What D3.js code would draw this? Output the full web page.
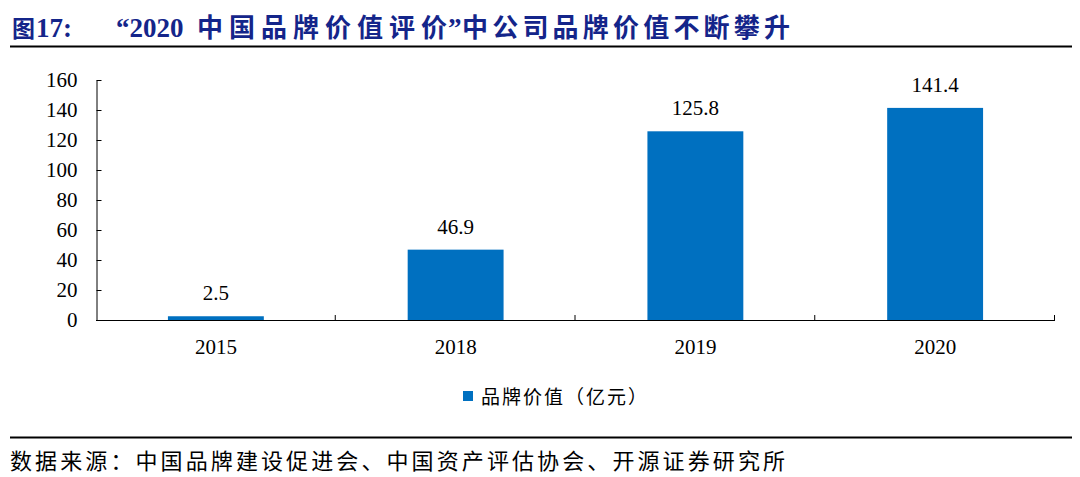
<html>
<head>
<meta charset="utf-8">
<script src="https://d3js.org/d3.v7.min.js"></script>
<style>
body { margin: 0; background: #fff; }
svg text { font-family: "Liberation Serif", "Times New Roman", serif; }
.cjk { font-family: "Noto Sans CJK SC", "Noto Sans", sans-serif; }
</style>
</head>
<body>
<div id="chart"></div>
<script>
var years = ['2015', '2018', '2019', '2020']
var brandValue = [2.5, 46.9, 125.8, 141.4]
var yTicks = [0, 20, 40, 60, 80, 100, 120, 140, 160]
var seriesName = '品牌价值（亿元）'
var sourceText = '数据来源：中国品牌建设促进会、中国资产评估协会、开源证券研究所'

var width = 1080, height = 477
var plotLeft = 96, plotRight = 1055, plotTop = 80, plotBottom = 320
var titleColor = '#14258a'

var svg = d3.select('#chart').append('svg')
    .attr('width', width)
    .attr('height', height)

// title, pieced together so each part lands where it does in the original
function titlePart(txt, x, cls, size, len) {
    var t = svg.append('text')
        .attr('x', x)
        .attr('y', 37)
        .attr('fill', titleColor)
        .style('font-size', size + 'px')
        .style('font-weight', 'bold')
        .text(txt)
    if (cls) t.attr('class', cls)
    if (len) t.attr('textLength', len).attr('lengthAdjust', 'spacing')
    return t
}
titlePart('图', 12, 'cjk', 23)
titlePart('17:', 36, null, 27)
titlePart('“2020', 116, null, 27)
titlePart('中国品牌价值评价', 197, 'cjk', 26, 250)
titlePart('”', 448, null, 27)
titlePart('中公司品牌价值不断攀升', 462, 'cjk', 26, 328)

svg.append('line')
    .attr('x1', 10).attr('x2', 1072)
    .attr('y1', 46.5).attr('y2', 46.5)
    .attr('stroke', '#000').attr('stroke-width', 2)

var x = d3.scaleBand().domain(years).range([plotLeft, plotRight]).paddingInner(0).paddingOuter(0)
var y = d3.scaleLinear().domain([0, 160]).range([plotBottom, plotTop])

// y axis, ticks pointing inward
var yAxis = svg.append('g')
    .attr('transform', 'translate(' + (plotLeft + 0.5) + ',0)')
    .call(d3.axisRight(y).tickValues(yTicks).tickSize(5).tickSizeOuter(0))
yAxis.select('.domain').attr('stroke', '#000')
yAxis.selectAll('.tick line').attr('stroke', '#000')
yAxis.selectAll('.tick text')
    .attr('x', -19)
    .attr('text-anchor', 'end')
    .attr('fill', '#000')
    .style('font-size', '21px')
    .style('font-family', '"Liberation Serif", serif')

// bars
svg.append('g').selectAll('rect')
    .data(brandValue)
    .enter()
    .append('rect')
    .attr('x', function(d, i) { return x(years[i]) + x.bandwidth() * 0.3 })
    .attr('width', x.bandwidth() * 0.4)
    .attr('y', function(d) { return y(d) })
    .attr('height', function(d) { return y(0) - y(d) })
    .attr('fill', '#0070c0')

// value labels
svg.append('g').selectAll('text')
    .data(brandValue)
    .enter()
    .append('text')
    .attr('x', function(d, i) { return x(years[i]) + x.bandwidth() / 2 })
    .attr('y', function(d) { return y(d) - 16 })
    .attr('text-anchor', 'middle')
    .style('font-size', '21px')
    .text(function(d) { return d.toFixed(1) })

// x axis with ticks between categories
var boundaries = years.map(function(d) { return x(d) }).concat([plotRight])
svg.append('line')
    .attr('x1', plotLeft).attr('x2', plotRight)
    .attr('y1', plotBottom + 0.5).attr('y2', plotBottom + 0.5)
    .attr('stroke', '#000')
svg.append('g').selectAll('line')
    .data(boundaries.slice(1))
    .enter()
    .append('line')
    .attr('x1', function(d) { return d - 0.5 }).attr('x2', function(d) { return d - 0.5 })
    .attr('y1', plotBottom - 5).attr('y2', plotBottom + 0.5)
    .attr('stroke', '#000')
svg.append('g').selectAll('text')
    .data(years)
    .enter()
    .append('text')
    .attr('x', function(d) { return x(d) + x.bandwidth() / 2 })
    .attr('y', plotBottom + 34)
    .attr('text-anchor', 'middle')
    .style('font-size', '21px')
    .text(function(d) { return d })

// legend
svg.append('rect')
    .attr('x', 463).attr('y', 391)
    .attr('width', 10).attr('height', 10)
    .attr('fill', '#0070c0')
svg.append('text')
    .attr('class', 'cjk')
    .attr('x', 481).attr('y', 404)
    .attr('textLength', 166).attr('lengthAdjust', 'spacing')
    .style('font-size', '19px')
    .text(seriesName)

// source
svg.append('line')
    .attr('x1', 10).attr('x2', 1072)
    .attr('y1', 437.5).attr('y2', 437.5)
    .attr('stroke', '#000').attr('stroke-width', 2)
svg.append('text')
    .attr('class', 'cjk')
    .attr('x', 10).attr('y', 469)
    .attr('textLength', 775).attr('lengthAdjust', 'spacing')
    .style('font-size', '22px')
    .text(sourceText)
</script>
</body>
</html>
